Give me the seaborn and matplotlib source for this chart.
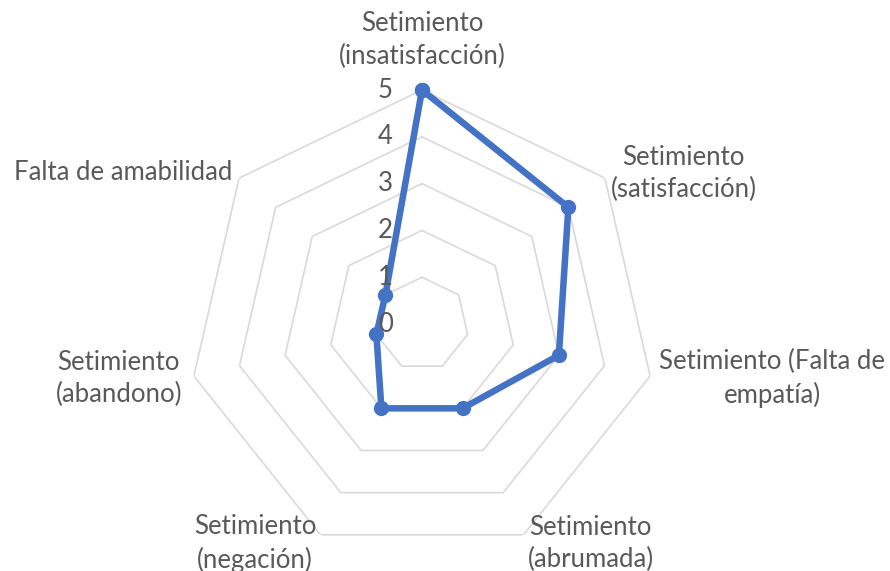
import numpy as np
import pandas as pd
import matplotlib
matplotlib.use("Agg")
import matplotlib.pyplot as plt
import seaborn as sns

# Datos del gráfico radar
categorias = [
    "Setimiento\n(insatisfacción)",
    "Setimiento\n(satisfacción)",
    "Setimiento (Falta de\nempatía)",
    "Setimiento\n(abrumada)",
    "Setimiento\n(negación)",
    "Setimiento\n(abandono)",
    "Falta de amabilidad",
]
valores = [5, 4, 3, 2, 2, 1, 1]
niveles = [0, 1, 2, 3, 4, 5]

sns.set_style("white")
plt.rcParams["font.family"] = ["Lato", "DejaVu Sans"]

color_linea = "#4472C4"
color_texto = "#595959"
color_rejilla = "#D9D9D9"
tam_fuente = 18.5

n = len(categorias)
angulos = np.linspace(0, 2 * np.pi, n, endpoint=False)

# cerrar el polígono
df = pd.DataFrame({
    "theta": np.append(angulos, angulos[0]),
    "valor": valores + [valores[0]],
})

fig = plt.figure(figsize=(8.9, 5.71), dpi=100)
ax = fig.add_axes([188 / 890, 13 / 571, 468 / 890, 468 / 571], projection="polar")
ax.set_theta_zero_location("N")
ax.set_theta_direction(-1)
ax.set_ylim(0, max(niveles))
ax.grid(False)
ax.spines["polar"].set_visible(False)
ax.set_xticks([])
ax.set_yticks([])

# rejilla heptagonal
for nivel in niveles[1:]:
    ax.plot(np.append(angulos, angulos[0]), [nivel] * (n + 1),
            color=color_rejilla, linewidth=1.2, zorder=1)

sns.lineplot(data=df, x="theta", y="valor", sort=False, estimator=None,
             color=color_linea, linewidth=4.7, marker="o", markersize=11,
             markeredgewidth=0, clip_on=False, ax=ax, zorder=3)
ax.set_xlabel("")
ax.set_ylabel("")

# etiquetas del eje radial
for nivel in niveles:
    ax.annotate(str(nivel), xy=(0, nivel), xytext=(-29, 0), textcoords="offset pixels",
                ha="right", va="center", fontsize=tam_fuente, color=color_texto)

# etiquetas de categorías
pos_r = [6.07, 5.15, 5.2, 5.2, 5.2, 5.26, 5.19]
pos_ha = ["center", "left", "left", "left", "right", "right", "right"]
for ang, cat, r, ha in zip(angulos, categorias, pos_r, pos_ha):
    ax.text(ang, r, cat, ha=ha, va="center", multialignment="center",
            linespacing=1.36, fontsize=tam_fuente, color=color_texto, clip_on=False)

fig.savefig("out.png", dpi=100)
